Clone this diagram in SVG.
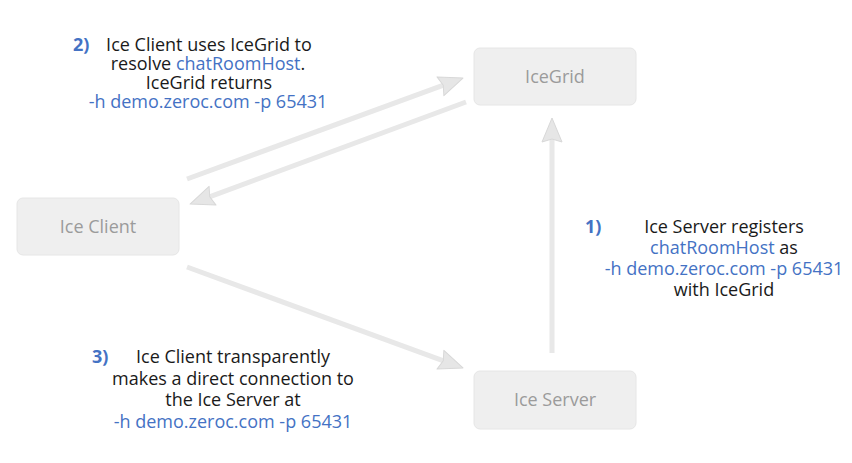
<svg xmlns="http://www.w3.org/2000/svg" width="852" height="463" viewBox="0 0 852 463">
<style>
.box{fill:#efefef;stroke:#e6e6e6;stroke-width:1}
.lbl{font-family:"Open Sans","Liberation Sans",sans-serif;font-size:18px;fill:#9b9b9b;text-anchor:middle}
.t{font-family:"Open Sans","Liberation Sans",sans-serif;font-size:18px;fill:#1a1a1a;text-anchor:middle}
.b{fill:#4472c4}
.n{font-family:"Open Sans","Liberation Sans",sans-serif;font-size:18px;font-weight:bold;fill:#4472c4}
.c{stroke:#e8e8e8;stroke-width:5;fill:none;marker-end:url(#ah)}
</style>
<defs>
<marker id="ah" markerUnits="userSpaceOnUse" viewBox="-1 -1 26 22" markerWidth="26" markerHeight="22" refX="4" refY="10" orient="auto">
<path d="M0,0 L24,10 L0,20 L3,10 Z" fill="#e6e6e6" stroke="#d8d8d8" stroke-width="1" stroke-linejoin="round"/>
</marker>
</defs>
<rect width="852" height="463" fill="#ffffff"/>
<g id="connectors">
<line class="c" x1="187" y1="179" x2="444.2" y2="84.9"/>
<line class="c" x1="466" y1="102" x2="208.8" y2="197.1"/>
<line class="c" x1="187" y1="267" x2="444.2" y2="361.1"/>
<line class="c" x1="552" y1="353" x2="552" y2="138"/>
</g>
<g id="icegrid">
<rect class="box" x="474" y="48" width="162" height="57" rx="6"/>
<text class="lbl" x="555" y="83">IceGrid</text>
</g>
<g id="iceclient">
<rect class="box" x="17" y="198" width="162" height="57" rx="6"/>
<text class="lbl" x="98" y="233">Ice Client</text>
</g>
<g id="iceserver">
<rect class="box" x="474" y="371" width="162" height="58" rx="6"/>
<text class="lbl" x="555" y="406">Ice Server</text>
</g>
<g id="note2">
<text class="n" x="73" y="51">2)</text>
<text class="t" x="209" y="51">Ice Client uses IceGrid to</text>
<text class="t" x="208" y="70">resolve <tspan class="b">chatRoomHost</tspan>.</text>
<text class="t" x="209" y="89">IceGrid returns</text>
<text class="t b" x="208" y="108">-h demo.zeroc.com -p 65431</text>
</g>
<g id="note1">
<text class="n" x="585" y="233">1)</text>
<text class="t" x="724" y="233">Ice Server registers</text>
<text class="t" x="724" y="254"><tspan class="b">chatRoomHost</tspan> as</text>
<text class="t b" x="724" y="275">-h demo.zeroc.com -p 65431</text>
<text class="t" x="724" y="296">with IceGrid</text>
</g>
<g id="note3">
<text class="n" x="92" y="363">3)</text>
<text class="t" x="233" y="363">Ice Client transparently</text>
<text class="t" x="233" y="385">makes a direct connection to</text>
<text class="t" x="233" y="406">the Ice Server at</text>
<text class="t b" x="233" y="428">-h demo.zeroc.com -p 65431</text>
</g>
</svg>
